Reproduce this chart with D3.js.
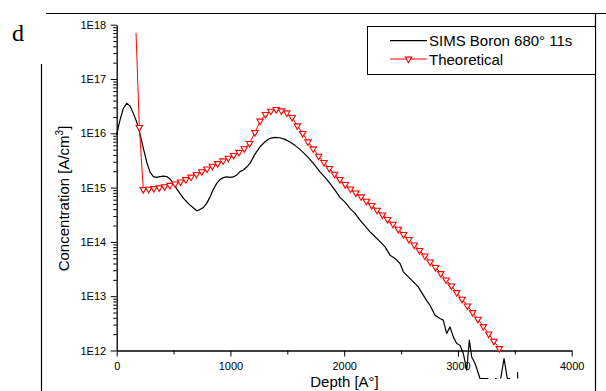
<!DOCTYPE html>
<html><head><meta charset="utf-8">
<script src="https://cdn.jsdelivr.net/npm/d3@7"></script>
<style>body{margin:0;background:#fff} svg{display:block}</style>
</head><body>
<svg id="c" width="606" height="391"></svg>
<script>
// ---------- data ----------
const xTicks = [0, 1000, 2000, 3000, 4000];
const xTickLabels = ["0", "1000", "2000", "3000", "4000"];
const xMinorTicks = [500, 1500, 2500, 3500];
const yTicks = [1e12, 1e13, 1e14, 1e15, 1e16, 1e17, 1e18];
const yTickLabels = ["1E12", "1E13", "1E14", "1E15", "1E16", "1E17", "1E18"];
const seriesNames = ["SIMS Boron 680\u00B0 11s", "Theoretical"];

// SIMS profile: depth [Å] and log10 concentration (null = gap)
const simsDepth = [0,14,29,58,88,117,146,176,205,234,264,293,322,352,381,410,440,469,498,527,556,585,615,644,673,703,732,761,791,820,849,879,908,937,967,996,1025,1055,1084,1113,1143,1172,1216,1260,1304,1348,1392,1435,1479,1523,1567,1611,1655,1699,1743,1787,1831,1875,1919,1963,2007,2051,2095,2139,2183,2227,2271,2315,2359,2403,2447,2491,2520,2564,2608,2651,2695,2728,2754,2798,2842,2871,2901,2930,2959,2989,3018,3047,3077,3100,3121,3150,3194,3267,null,3326,3341,null,3376,3405,3434,3458,null,3524,3525];
const simsLogConc = [15.968,16.115,16.244,16.456,16.552,16.502,16.367,16.207,15.986,15.728,15.470,15.286,15.203,15.188,15.203,15.212,15.203,15.157,15.078,14.982,14.893,14.807,14.739,14.678,14.628,14.573,14.595,14.632,14.709,14.825,14.963,15.078,15.148,15.184,15.199,15.188,15.197,15.231,15.295,15.323,15.378,15.446,15.617,15.752,15.844,15.907,15.925,15.918,15.888,15.839,15.778,15.704,15.617,15.520,15.409,15.291,15.188,15.078,14.954,14.820,14.733,14.617,14.525,14.401,14.296,14.186,14.094,14.005,13.909,13.756,13.696,13.603,13.449,13.357,13.264,13.172,13.019,12.909,12.835,12.651,12.590,12.559,12.314,12.435,12.251,12.129,12.098,11.945,11.637,12.190,11.882,11.761,11.484,11.484,null,11.484,11.484,null,11.484,11.853,11.484,11.484,null,11.606,11.484];

// Theoretical profile
const theoryDepth = [170,199,234,281,327,374,421,468,514,561,608,654,701,748,794,841,888,935,981,1028,1075,1121,1168,1215,1261,1308,1355,1402,1448,1495,1542,1588,1635,1682,1728,1775,1822,1869,1915,1962,2009,2055,2102,2149,2195,2242,2289,2336,2382,2429,2476,2522,2569,2616,2662,2709,2756,2803,2849,2896,2943,2989,3036,3083,3129,3176,3223,3270,3316,3363];
const theoryLogConc = [17.85,16.11,14.967,14.973,14.984,14.998,15.019,15.043,15.070,15.105,15.150,15.195,15.245,15.295,15.345,15.396,15.444,15.494,15.544,15.595,15.651,15.719,15.815,16.017,16.226,16.349,16.410,16.441,16.415,16.378,16.294,16.139,15.999,15.844,15.715,15.581,15.465,15.354,15.249,15.151,15.059,14.978,14.904,14.831,14.751,14.672,14.586,14.499,14.414,14.328,14.235,14.138,14.046,13.946,13.843,13.743,13.633,13.530,13.419,13.301,13.190,13.069,12.946,12.822,12.700,12.577,12.443,12.306,12.172,12.037];

// ---------- drawing ----------
const svg = d3.select("#c");
const FONT = "'Liberation Sans', Arial, sans-serif";

const x = d3.scaleLinear().domain([0, 4000]).range([116.7, 571.7]);
const y = d3.scaleLog().domain([1e12, 1e18]).range([350.5, 24.7]);

// page frame remnants
svg.append("line").attr("x1", 46).attr("x2", 606).attr("y1", 13.5).attr("y2", 13.5).attr("stroke", "#000").attr("stroke-width", 1.2);
svg.append("line").attr("x1", 595.5).attr("x2", 595.5).attr("y1", 13).attr("y2", 391).attr("stroke", "#000").attr("stroke-width", 1.2);
svg.append("line").attr("x1", 41.5).attr("x2", 41.5).attr("y1", 64).attr("y2", 391).attr("stroke", "#000").attr("stroke-width", 1.2);

// panel letter
svg.append("text").attr("x", 12).attr("y", 40.7).attr("font-family", "'Liberation Serif', 'Times New Roman', serif")
  .attr("font-size", 24).text("d");

function styleAxis(g) {
  g.selectAll(".domain").attr("stroke", "#000").attr("stroke-width", 1.3);
  g.selectAll(".tick line").attr("stroke", "#000").attr("stroke-width", 1);
  g.selectAll("text").attr("font-family", FONT).attr("font-size", 11).attr("fill", "#000");
}

// x axis
const gx = svg.append("g").attr("transform", "translate(0,350.5)")
  .call(d3.axisBottom(x).tickValues(xTicks).tickFormat((d, i) => xTickLabels[i]).tickSize(6).tickPadding(6).tickSizeOuter(0));
styleAxis(gx);
const gxm = svg.append("g").attr("transform", "translate(0,350.5)")
  .call(d3.axisBottom(x).tickValues(xMinorTicks).tickSize(4).tickFormat("").tickSizeOuter(0));
styleAxis(gxm);
gxm.select(".domain").remove();

// y axis
const gy = svg.append("g").attr("transform", "translate(116.7,0)")
  .call(d3.axisLeft(y).tickValues(yTicks).tickFormat((d, i) => yTickLabels[i]).tickSize(6).tickPadding(4.5).tickSizeOuter(0));
styleAxis(gy);
const yMinor = [];
for (let e = 12; e < 18; e++) for (let m = 2; m <= 9; m++) yMinor.push(m * Math.pow(10, e));
const gym = svg.append("g").attr("transform", "translate(116.7,0)")
  .call(d3.axisLeft(y).tickValues(yMinor).tickSize(3.5).tickFormat("").tickSizeOuter(0));
styleAxis(gym);
gym.select(".domain").remove();

// axis titles
const yl = svg.append("text").attr("transform", "translate(69,198.5) rotate(-90)")
  .attr("text-anchor", "middle").attr("font-family", FONT).attr("font-size", 15);
yl.append("tspan").text("Concentration [A/cm");
yl.append("tspan").attr("font-size", 10).attr("dy", -6).text("3");
yl.append("tspan").attr("dy", 6).text("]");

svg.append("text").attr("x", 344.5).attr("y", 387).attr("text-anchor", "middle")
  .attr("font-family", FONT).attr("font-size", 15).text("Depth [A\u00B0]");

// series
const sims = simsDepth.map((d, i) => ({ d, v: simsLogConc[i] }));
const theory = theoryDepth.map((d, i) => ({ d, v: theoryLogConc[i] }));

const line = d3.line()
  .defined(p => p.d !== null && p.v !== null)
  .x(p => x(p.d)).y(p => y(Math.pow(10, p.v)));

svg.append("path").datum(sims).attr("d", line).attr("fill", "none")
  .attr("stroke", "#000").attr("stroke-width", 1.2).attr("stroke-linejoin", "round");

svg.append("path").datum(theory).attr("d", line).attr("fill", "none")
  .attr("stroke", "#ff0000").attr("stroke-width", 1);

const tri = d3.symbol().type(d3.symbolTriangle).size(18);
svg.append("g").selectAll("path").data(theory.slice(1)).join("path")
  .attr("d", tri)
  .attr("transform", p => `translate(${x(p.d)},${y(Math.pow(10, p.v))}) rotate(180)`)
  .attr("fill", "#fff").attr("stroke", "#ff0000").attr("stroke-width", 1.1);

// legend
const lg = svg.append("g");
lg.append("rect").attr("x", 367.5).attr("y", 26.5).attr("width", 228).attr("height", 48)
  .attr("fill", "#fff").attr("stroke", "#000").attr("stroke-width", 1);
lg.append("line").attr("x1", 390).attr("x2", 427).attr("y1", 40.7).attr("y2", 40.7)
  .attr("stroke", "#000").attr("stroke-width", 1.2);
lg.append("text").attr("x", 429).attr("y", 46).attr("font-family", FONT).attr("font-size", 15).text(seriesNames[0]);
lg.append("line").attr("x1", 390).attr("x2", 427).attr("y1", 59).attr("y2", 59)
  .attr("stroke", "#ff0000").attr("stroke-width", 1);
lg.append("path").attr("d", tri).attr("transform", "translate(408.5,59) rotate(180)")
  .attr("fill", "#fff").attr("stroke", "#ff0000").attr("stroke-width", 1.1);
lg.append("text").attr("x", 429).attr("y", 64.5).attr("font-family", FONT).attr("font-size", 15).text(seriesNames[1]);
</script>
</body></html>
